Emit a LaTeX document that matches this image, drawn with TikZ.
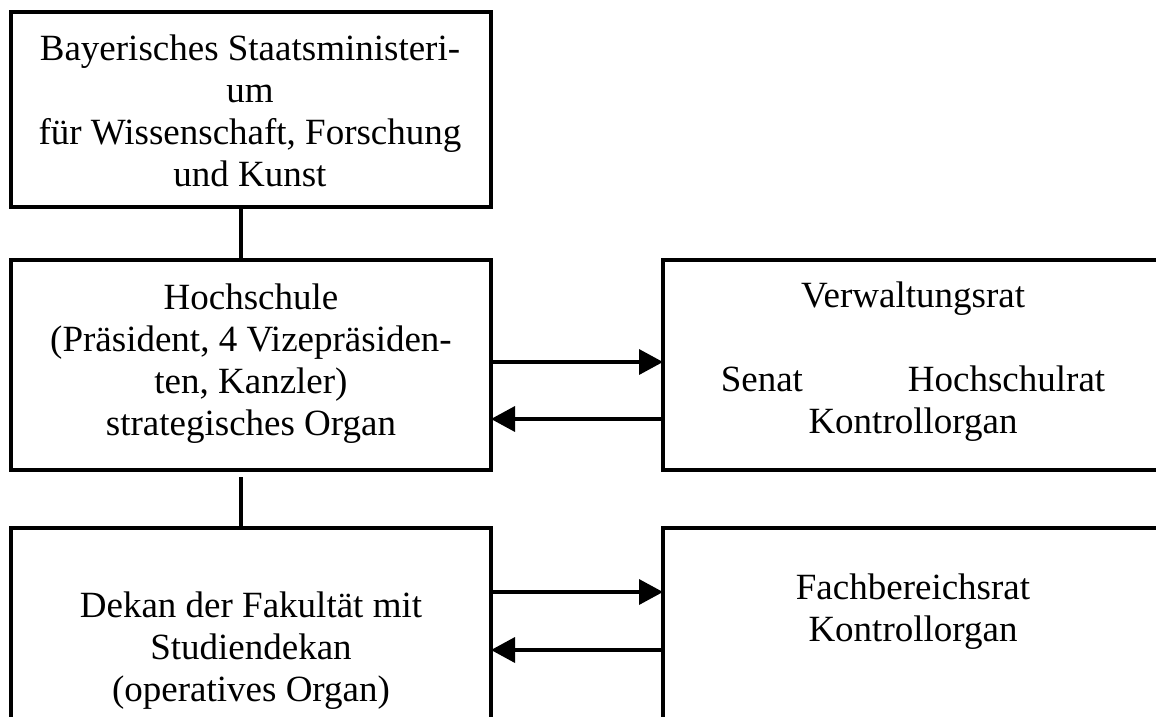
\documentclass[tikz,border=0pt]{standalone}
\usepackage{fontspec}
\setmainfont{Liberation Serif}
\usetikzlibrary{arrows.meta}
\begin{document}
\begin{tikzpicture}[x=1pt,y=-1pt,
  box/.style={draw, line width=3.6pt, inner sep=0pt, outer sep=0pt, rectangle},
  txt/.style={align=center, inner sep=0pt, font=\fontsize{37}{42}\selectfont},
  conn/.style={line width=3.6pt},
  arr/.style={line width=3.6pt, -{Triangle[length=24pt,width=25pt]}}]
\useasboundingbox (0,0) rectangle (1156,717);
\clip (0,0) rectangle (1156,717);
\node[box, minimum width=480pt, minimum height=195pt] (b1) at (251,109.5) {};
\node[box, minimum width=480pt, minimum height=210pt] (b2) at (251,365) {};
\node[box, minimum width=500pt, minimum height=210pt] (b3) at (913,365) {};
\node[box, minimum width=480pt, minimum height=212pt] (b4) at (251,634) {};
\node[box, minimum width=500pt, minimum height=212pt] (b5) at (913,634) {};
\node[txt] (t1) at (250,111) {Bayerisches Staatsministeri-\\um\\für Wissenschaft, Forschung\\und Kunst};
\node[txt] (t2) at (251,364) {Hochschule\\(Präsident, 4 Vizepräsiden-\\ten, Kanzler)\\strategisches Organ};
\node[txt] (t3) at (913,361.5) {Verwaltungsrat\\\mbox{}\\Senat\hspace*{105pt}Hochschulrat\\Kontrollorgan};
\node[txt] (t4) at (251,651) {Dekan der Fakultät mit\\Studiendekan\\(operatives Organ)};
\node[txt] (t5) at (913,612) {Fachbereichsrat\\Kontrollorgan};
\coordinate (j1) at (241,0);
\coordinate (j2) at (241,477);
\draw[conn] (b1.south -| j1) -- (b2.north -| j1);
\draw[conn] (j2) -- (b4.north -| j2);
\coordinate (a1) at (0,362);
\coordinate (a2) at (0,419);
\coordinate (a3) at (0,592);
\coordinate (a4) at (0,650);
\draw[arr] (b2.east |- a1) -- (b3.west |- a1);
\draw[arr] (b3.west |- a2) -- (b2.east |- a2);
\draw[arr] (b4.east |- a3) -- (b5.west |- a3);
\draw[arr] (b5.west |- a4) -- (b4.east |- a4);
\end{tikzpicture}
\end{document}
